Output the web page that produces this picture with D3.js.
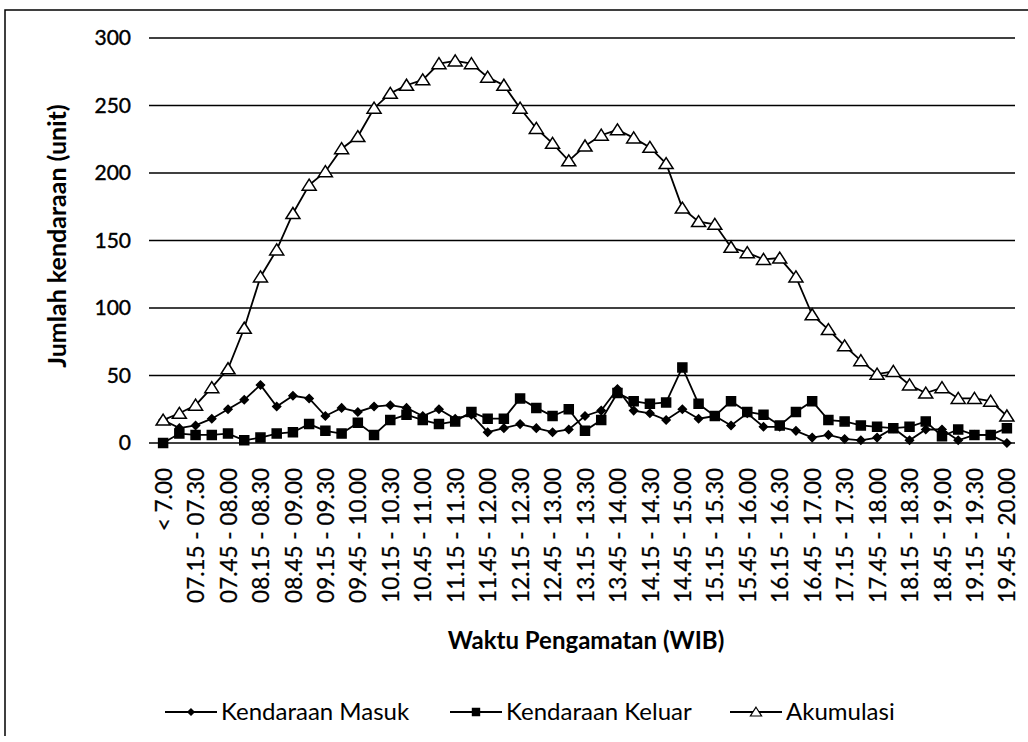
<html>
<head>
  <meta charset="utf-8">
  <script src="https://d3js.org/d3.v7.min.js"></script>
  <style>
    body { margin: 0; background: #fff; }
    text { font-family: Lato, "Open Sans", sans-serif; fill: #000; }
  </style>
</head>
<body>
<script>
// categories: "< 7.00" then every 15 minutes until 20.00
var categories = ["< 7.00",
  "07.00 - 07.15", "07.15 - 07.30", "07.30 - 07.45", "07.45 - 08.00",
  "08.00 - 08.15", "08.15 - 08.30", "08.30 - 08.45", "08.45 - 09.00",
  "09.00 - 09.15", "09.15 - 09.30", "09.30 - 09.45", "09.45 - 10.00",
  "10.00 - 10.15", "10.15 - 10.30", "10.30 - 10.45", "10.45 - 11.00",
  "11.00 - 11.15", "11.15 - 11.30", "11.30 - 11.45", "11.45 - 12.00",
  "12.00 - 12.15", "12.15 - 12.30", "12.30 - 12.45", "12.45 - 13.00",
  "13.00 - 13.15", "13.15 - 13.30", "13.30 - 13.45", "13.45 - 14.00",
  "14.00 - 14.15", "14.15 - 14.30", "14.30 - 14.45", "14.45 - 15.00",
  "15.00 - 15.15", "15.15 - 15.30", "15.30 - 15.45", "15.45 - 16.00",
  "16.00 - 16.15", "16.15 - 16.30", "16.30 - 16.45", "16.45 - 17.00",
  "17.00 - 17.15", "17.15 - 17.30", "17.30 - 17.45", "17.45 - 18.00",
  "18.00 - 18.15", "18.15 - 18.30", "18.30 - 18.45", "18.45 - 19.00",
  "19.00 - 19.15", "19.15 - 19.30", "19.30 - 19.45", "19.45 - 20.00"];

var masuk = [17, 11, 13, 18, 25, 32, 43, 27, 35, 33, 20, 26, 23, 27, 28, 26, 20,
  25, 18, 21, 8, 11, 14, 11, 8, 10, 20, 24, 40, 24, 22, 17, 25, 18, 20, 13,
  22, 12, 12, 9, 4, 6, 3, 2, 4, 11, 2, 10, 10, 2, 6, 6, 0];

var keluar = [0, 7, 6, 6, 7, 2, 4, 7, 8, 14, 9, 7, 15, 6, 17, 21, 17,
  14, 16, 23, 18, 18, 33, 26, 20, 25, 9, 17, 37, 31, 29, 30, 56, 29, 20, 31,
  23, 21, 13, 23, 31, 17, 16, 13, 12, 11, 12, 16, 5, 10, 6, 6, 11];

var akumulasi = [17, 22, 28, 41, 55, 85, 123, 143, 170, 191, 201, 218, 227, 248, 259, 265, 269,
  281, 283, 281, 271, 265, 248, 233, 222, 209, 220, 228, 232, 226, 219, 207, 174, 164, 162,
  145, 141, 136, 137, 123, 95, 84, 72, 61, 51, 53, 43, 37, 41, 33, 33, 31, 20];

var yTicks = [0, 50, 100, 150, 200, 250, 300];

var seriesNames = ["Kendaraan Masuk", "Kendaraan Keluar", "Akumulasi"];

var width = 1028, height = 742;

var svg = d3.select("body").append("svg")
  .attr("width", width)
  .attr("height", height);

// outer frame (only left and top edges are in the picture)
svg.append("path")
  .attr("d", "M5,736V10H1028")
  .attr("fill", "none")
  .attr("stroke", "#000")
  .attr("stroke-width", 1.5);

var x = d3.scalePoint().domain(categories).range([155, 1015]).padding(0.5);
var y = d3.scaleLinear().domain([0, 300]).range([443, 38]);

// gridlines
svg.append("g").selectAll("line")
  .data(yTicks)
  .join("line")
    .attr("x1", 149).attr("x2", 1015)
    .attr("y1", function(d) { return y(d); })
    .attr("y2", function(d) { return y(d); })
    .attr("stroke", "#000")
    .attr("stroke-width", 1.4);

// y axis labels
var yAxis = d3.axisLeft(y).tickValues(yTicks).tickSize(0).tickPadding(0);
var gy = svg.append("g").attr("transform", "translate(131,0)").call(yAxis);
gy.select(".domain").remove();
gy.selectAll("text")
  .style("font-family", "Lato, sans-serif")
  .style("font-size", "21px")
  .style("stroke", "#000")
  .style("stroke-width", 0.4);

// x axis labels (every second category)
var xAxis = d3.axisBottom(x)
  .tickValues(categories.filter(function(d, i) { return i % 2 === 0; }))
  .tickSize(0).tickPadding(0);
var gx = svg.append("g").attr("transform", "translate(0,468)").call(xAxis);
gx.select(".domain").remove();
gx.selectAll("text")
  .style("font-family", "Lato, sans-serif")
  .style("font-size", "22.5px")
  .style("stroke", "#000")
  .style("stroke-width", 0.3)
  .attr("text-anchor", "end")
  .attr("transform", "rotate(-90)")
  .attr("x", 0)
  .attr("y", 0)
  .attr("dy", "0.36em");

// axis titles
svg.append("text")
  .attr("transform", "translate(66,236) rotate(-90)")
  .attr("text-anchor", "middle")
  .style("font-size", "25px")
  .style("font-weight", "bold")
  .text("Jumlah kendaraan (unit)");

svg.append("text")
  .attr("x", 586).attr("y", 649)
  .attr("text-anchor", "middle")
  .style("font-size", "24px")
  .style("font-weight", "bold")
  .text("Waktu Pengamatan (WIB)");

var line = d3.line()
  .x(function(d, i) { return x(categories[i]); })
  .y(function(d) { return y(d); });

var triangle = "M0,-6L7,5H-7Z";
var square = "M-4.5,-4.5H4.5V4.5H-4.5Z";
var diamond = "M0,-4L4,0L0,4L-4,0Z";

function drawSeries(values, shape, fill) {
  var g = svg.append("g");
  g.append("path")
    .datum(values)
    .attr("d", line)
    .attr("fill", "none")
    .attr("stroke", "#000")
    .attr("stroke-width", 1.8);
  g.selectAll("path.mark")
    .data(values)
    .join("path")
      .attr("class", "mark")
      .attr("d", shape)
      .attr("transform", function(d, i) {
        return "translate(" + x(categories[i]) + "," + y(d) + ")";
      })
      .attr("fill", fill)
      .attr("stroke", "#000")
      .attr("stroke-width", 1.5);
}

drawSeries(keluar, square, "#000");
drawSeries(masuk, diamond, "#000");
drawSeries(akumulasi, triangle, "#fff");

// legend
var legendItems = [
  { name: seriesNames[0], x: 165, shape: diamond, fill: "#000" },
  { name: seriesNames[1], x: 450, shape: square, fill: "#000" },
  { name: seriesNames[2], x: 730, shape: triangle, fill: "#fff" }
];
var lg = svg.append("g").attr("transform", "translate(0,712)");
legendItems.forEach(function(it) {
  lg.append("line")
    .attr("x1", it.x).attr("x2", it.x + 52)
    .attr("y1", 0).attr("y2", 0)
    .attr("stroke", "#000").attr("stroke-width", 1.8);
  lg.append("path")
    .attr("d", it.shape)
    .attr("transform", "translate(" + (it.x + 26) + ",0) scale(0.8)")
    .attr("fill", it.fill)
    .attr("stroke", "#000")
    .attr("stroke-width", 1.5);
  lg.append("text")
    .attr("x", it.x + 56).attr("y", 0)
    .attr("dy", "0.35em")
    .style("font-size", "24px")
    .text(it.name);
});
</script>
</body>
</html>
